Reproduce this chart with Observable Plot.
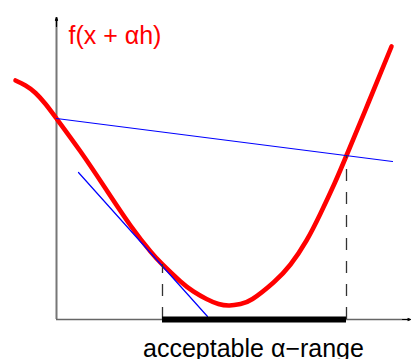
<!DOCTYPE html>
<html>
<head>
<meta charset="utf-8">
<script src="https://cdn.jsdelivr.net/npm/d3@7"></script>
<script src="https://cdn.jsdelivr.net/npm/@observablehq/plot@0.6"></script>
<style>
  html, body { margin: 0; padding: 0; background: #fff; }
  #chart svg { display: block; }
</style>
</head>
<body>
<div id="chart"></div>
<script>
// Line search sketch: f(x + αh) along the step length α.
const curveAlpha = [-4.1, -3.1, -2.1, -1.1, 0, 2.4, 4.9, 7.4, 9.4, 10.6, 12.4, 13.7, 15.0, 16.2, 17.3, 18.4, 19.6, 21.7, 23.4, 25.0, 26.4, 27.8, 29.0, 31.2, 33.5];
const curveF     = [23.9, 23.4, 22.65, 21.55, 20.1, 16.8, 13.1, 9.4, 6.8, 5.5, 3.8, 2.8, 2.05, 1.55, 1.4, 1.55, 2.05, 3.7, 5.5, 7.9, 10.6, 13.6, 16.4, 21.7, 27.3];

// Sufficient-decrease line from f(x) at α = 0
const decreaseAlpha = [0, 33.6];
const decreaseF     = [20.1, 15.8];

// Tangent line touching the curve at the lower end of the range
const tangentAlpha = [2.2, 15.1];
const tangentF     = [14.7, 0.3];

// Ends of the acceptable interval and the curve value there
const rangeAlpha = [10.6, 29.0];
const rangeF     = [5.5, 16.4];

// Axis extents
const axisEnd = {alpha: 35.4, f: 30.2};

const labels = ["f(x + αh)", "acceptable α\u2212range"];

const curve = curveAlpha.map((a, i) => ({a, f: curveF[i]}));
const decrease = decreaseAlpha.map((a, i) => ({a, f: decreaseF[i]}));
const tangent = tangentAlpha.map((a, i) => ({a, f: tangentF[i]}));
const ends = rangeAlpha.map((a, i) => ({a, f: rangeF[i]}));

const font = "'Liberation Sans', Arial, Helvetica, sans-serif";

const chart = Plot.plot({
  width: 412,
  height: 359,
  margin: 0,
  x: {domain: [-5.6, 35.6], axis: null},
  y: {domain: [-4, 31.9], axis: null},
  style: {background: "#fff", fontFamily: font},
  marks: [
    // axes
    Plot.ruleX([0], {y1: 0, y2: axisEnd.f, stroke: "#777", strokeWidth: 2}),
    Plot.ruleY([0], {x1: 0, x2: axisEnd.alpha, stroke: "#666", strokeWidth: 1.5}),
    Plot.arrow([{a: 0, f1: axisEnd.f - 0.9, f2: axisEnd.f}], {
      x1: "a", x2: "a", y1: "f1", y2: "f2",
      stroke: "#000", strokeWidth: 1.2, headLength: 9, headAngle: 40
    }),
    Plot.arrow([{a1: axisEnd.alpha - 0.8, a2: axisEnd.alpha}], {
      x1: "a1", x2: "a2", y1: 0, y2: 0,
      stroke: "#000", strokeWidth: 1.2, headLength: 7, headAngle: 45
    }),
    // f along the search direction
    Plot.line(curve, {x: "a", y: "f", curve: "natural", stroke: "red", strokeWidth: 4.6, strokeLinecap: "round"}),
    // linear models
    Plot.line(decrease, {x: "a", y: "f", stroke: "blue", strokeWidth: 1.2}),
    Plot.line(tangent, {x: "a", y: "f", stroke: "blue", strokeWidth: 1.2}),
    // drop lines at the interval ends
    Plot.ruleX(ends, {x: "a", y1: 0, y2: "f", stroke: "#333", strokeWidth: 1.3, strokeDasharray: "12,11"}),
    // acceptable interval
    Plot.ruleY([0], {x1: rangeAlpha[0], x2: rangeAlpha[1], stroke: "#000", strokeWidth: 6}),
    // labels
    Plot.text([labels[0]], {x: 1.2, y: 27.6, text: d => d, textAnchor: "start", lineAnchor: "bottom",
      fill: "red", fontSize: 25, fontFamily: font}),
    Plot.text([labels[1]], {x: 19.7, y: -3.75, text: d => d, textAnchor: "middle", lineAnchor: "bottom",
      fill: "#000", fontSize: 25, fontFamily: font})
  ]
});

document.getElementById("chart").appendChild(chart);
</script>
</body>
</html>
